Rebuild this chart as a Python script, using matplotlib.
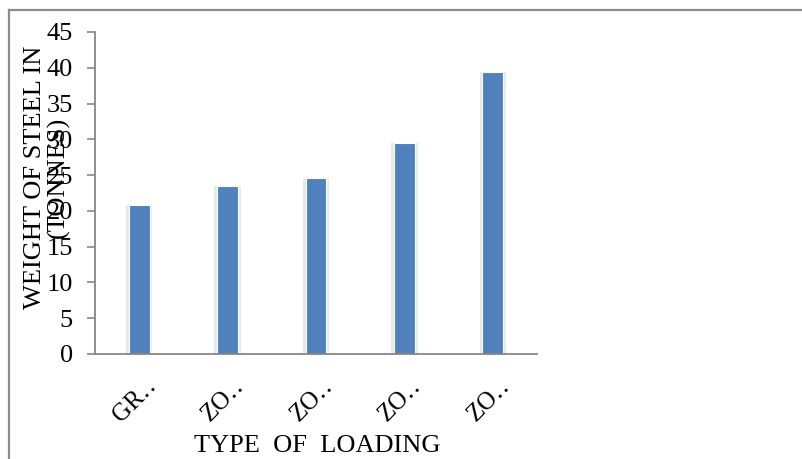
import matplotlib
matplotlib.use("Agg")
import matplotlib.pyplot as plt
from matplotlib.lines import Line2D
from matplotlib.transforms import ScaledTranslation

categories = ["GR\u2025", "ZO\u2025", "ZO\u2025", "ZO\u2025", "ZO\u2025"]
values = [20.8, 23.5, 24.6, 29.5, 39.4]
yticks = [0, 5, 10, 15, 20, 25, 30, 35, 40, 45]

plt.rcParams['font.family'] = ['Liberation Serif', 'DejaVu Serif']

W, H = 803, 459
fig = plt.figure(figsize=(W / 100, H / 100), dpi=100)
ax = fig.add_axes([95 / W, 1 - 354 / H, (537 - 95) / W, (354 - 32) / H])

x = list(range(len(categories)))
# soft shadow behind bars
ax.bar(x, values, width=0.30, color='#e8e8e8', zorder=1)
ax.bar(x, values, width=0.235, color='#4F81BD', edgecolor='white', linewidth=0.8, zorder=2)

ax.set_xlim(-0.5, len(categories) - 0.5)
ax.set_ylim(0, 45)
ax.set_yticks(yticks)
ax.set_yticklabels([str(v) for v in yticks], fontsize=19)
ax.set_xticks(x)
ax.set_xticklabels(categories, fontsize=18, rotation=45, ha='center', va='top')
ax.tick_params(axis='x', length=0, pad=15)
ax.tick_params(axis='y', length=6, width=1.2, color='#868686', pad=10)
off = ScaledTranslation(-4 / 100, 0, fig.dpi_scale_trans)
for lab in ax.get_xticklabels():
    lab.set_transform(lab.get_transform() + off)

for s in ['top', 'right']:
    ax.spines[s].set_visible(False)
for s in ['left', 'bottom']:
    ax.spines[s].set_color('#868686')
    ax.spines[s].set_linewidth(1.3)

fig.text(317 / W, 1 - 446 / H, "TYPE  OF  LOADING", fontsize=19, ha='center', va='center')
fig.text(47 / W, 1 - 177 / H, "WEIGHT OF STEEL IN\n(TONNES)", fontsize=19, rotation=90,
         ha='center', va='center', multialignment='center', linespacing=1.0)

# outer frame (top and left edges visible)
fig.add_artist(Line2D([9 / W, 1], [1 - 10 / H, 1 - 10 / H], transform=fig.transFigure,
                      color='#8c8c8c', linewidth=1.6))
fig.add_artist(Line2D([9 / W, 9 / W], [0, 1 - 10 / H], transform=fig.transFigure,
                      color='#8c8c8c', linewidth=1.6))

fig.savefig("out.png", dpi=100)
